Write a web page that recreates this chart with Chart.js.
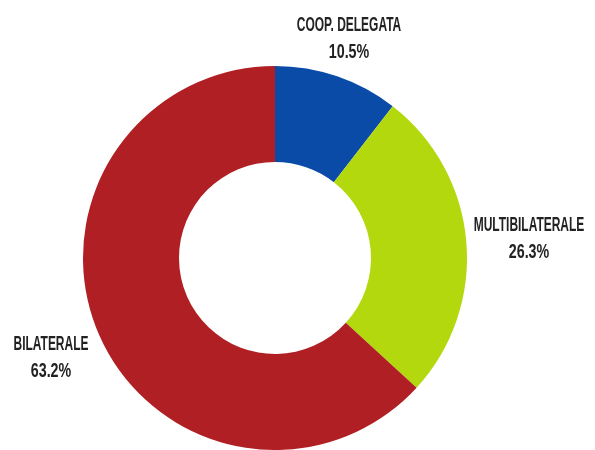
<!DOCTYPE html>
<html>
<head>
<meta charset="utf-8">
<script src="https://cdn.jsdelivr.net/npm/chart.js@4"></script>
<style>
    body { margin: 0; background: #ffffff; overflow: hidden; }
    #wrap { position: relative; width: 595px; height: 450px; }
</style>
</head>
<body>
<div id="wrap"><canvas id="chart"></canvas></div>
<script>
// Data
const categories = ['COOP. DELEGATA', 'MULTIBILATERALE', 'BILATERALE'];
const shares = [10.5, 26.3, 63.2];
const sliceColors = ['#0a4ba8', '#b3d80e', '#b01f23'];

// Label anchor per slice (centre of the two-line block)
const labelSpots = [
    { x: 349, y: 38 },
    { x: 529, y: 238 },
    { x: 51, y: 357 }
];

// Draw condensed two-line labels: name + percentage
const sliceLabels = {
    id: 'sliceLabels',
    afterDraw(chart) {
        const ctx = chart.ctx;
        ctx.save();
        ctx.fillStyle = '#222222';
        ctx.textAlign = 'center';
        ctx.textBaseline = 'middle';
        ctx.font = "bold 21px 'Liberation Sans', Arial, sans-serif";
        categories.forEach((name, i) => {
            const spot = labelSpots[i];
            const lines = [name, shares[i].toFixed(1) + '%'];
            lines.forEach((line, j) => {
                ctx.save();
                ctx.translate(spot.x, spot.y - 13 + j * 27);
                ctx.scale(j === 0 ? 0.57 : 0.68, 1);
                ctx.fillText(line, 0, 0);
                ctx.restore();
            });
        });
        ctx.restore();
    }
};

new Chart(document.getElementById('chart'), {
    type: 'doughnut',
    data: {
        labels: categories,
        datasets: [{
            data: shares,
            backgroundColor: sliceColors,
            borderWidth: 0
        }]
    },
    options: {
        responsive: true,
        maintainAspectRatio: false,
        animation: false,
        cutout: '50%',
        layout: {
            padding: { top: 66, bottom: 0, left: 83, right: 128 }
        },
        plugins: {
            legend: { display: false },
            tooltip: { enabled: false }
        }
    },
    plugins: [sliceLabels]
});
</script>
</body>
</html>
